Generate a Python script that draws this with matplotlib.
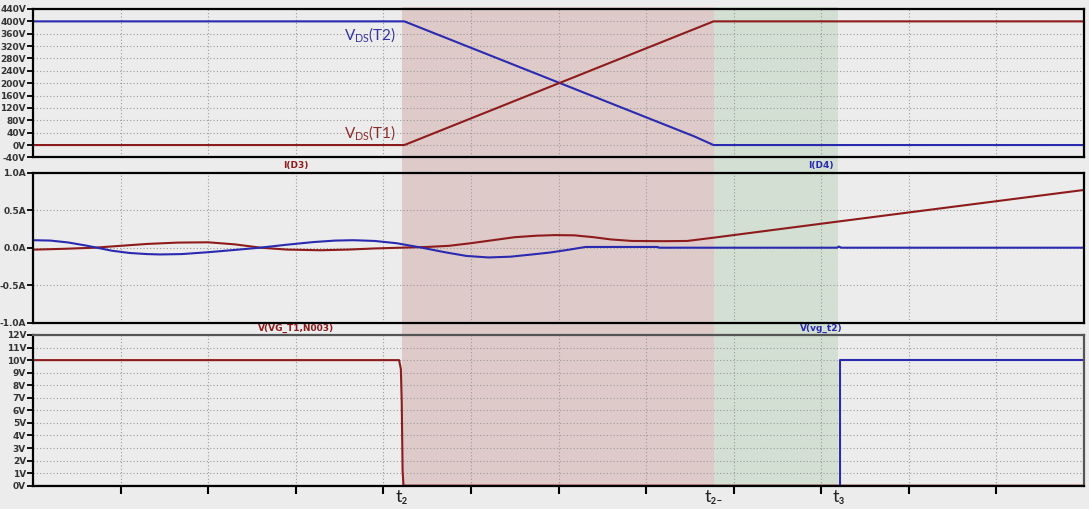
import matplotlib
matplotlib.use("Agg")
import matplotlib.pyplot as plt
from matplotlib.patches import Rectangle
from matplotlib.transforms import blended_transform_factory

# Time axis in grid divisions (12 divisions across the plot)
X_MAX = 12

# Top panel: drain-source voltages
vds_t = [0, 4.24, 7.55, 7.77, 12]
vds_t2 = [400, 400, 28, 0, 0]
vds_t1_t = [0, 4.24, 7.77, 12]
vds_t1 = [0, 0, 400, 400]

# Middle panel: diode currents
id4_t = [0, 0.2, 0.4, 0.6, 0.73, 0.9, 1.1, 1.3, 1.45, 1.7, 2.0, 2.3, 2.59, 2.9,
         3.2, 3.45, 3.66, 3.9, 4.15, 4.44, 4.7, 4.95, 5.2, 5.45, 5.7, 5.9, 6.1,
         6.31, 7.13, 7.15, 9.18, 9.2, 9.23, 12]
id4 = [0.1, 0.095, 0.07, 0.03, 0.0, -0.04, -0.07, -0.085, -0.09, -0.085, -0.06,
       -0.03, 0.0, 0.04, 0.075, 0.095, 0.1, 0.09, 0.06, 0.0, -0.06, -0.11, -0.13,
       -0.12, -0.09, -0.065, -0.03, 0.01, 0.01, 0.0, 0.0, 0.015, 0.0, 0.0]
id3_t = [0, 0.35, 0.7, 1.0, 1.3, 1.65, 2.0, 2.3, 2.6, 2.9, 3.28, 3.6, 3.9, 4.19,
         4.5, 4.75, 5.0, 5.25, 5.5, 5.75, 5.96, 6.18, 6.4, 6.6, 6.84, 7.2, 7.47,
         7.78, 9.2, 12]
id3 = [-0.026, -0.015, 0.0, 0.025, 0.05, 0.068, 0.072, 0.045, 0.0, -0.025,
       -0.034, -0.025, -0.01, 0.0, 0.01, 0.025, 0.06, 0.1, 0.14, 0.16, 0.168,
       0.165, 0.14, 0.11, 0.09, 0.087, 0.09, 0.135, 0.35, 0.77]

# Bottom panel: gate voltages
vg1_t = [0, 4.18, 4.2, 4.21, 4.22, 4.23, 12]
vg1 = [10, 10, 9.3, 6.7, 1.2, 0, 0]
vg2_t = [0, 9.21, 9.21, 12]
vg2 = [0, 0, 10, 10]

# Shaded intervals and their labels
red_span = (4.21, 7.77)
green_span = (7.77, 9.19)
t_marks = [4.21, 7.77, 9.2]
t_labels = ["t\u2082", "t\u2082\u208b", "t\u2083"]

top_ticks = list(range(-40, 441, 40))
mid_ticks = [-1.0, -0.5, 0.0, 0.5, 1.0]
bot_ticks = list(range(0, 13))

RED = "#8e1b1b"
BLUE = "#2a2ab0"
BG = "#ececec"

W, H = 1089, 509
fig = plt.figure(figsize=(W / 100, H / 100), dpi=100, facecolor=BG)


def px_axes(top, bottom, left=33, right=1084):
    return fig.add_axes([left / W, 1 - bottom / H, (right - left) / W, (bottom - top) / H])


ax1 = px_axes(9, 157.4)
ax2 = px_axes(172.7, 322.7)
ax3 = px_axes(335, 485.7)


def style(ax, ticks, fmt, spine_color="black"):
    ax.set_facecolor("none")
    ax.set_xlim(0, X_MAX)
    ax.set_ylim(ticks[0], ticks[-1])
    ax.set_yticks(ticks)
    ax.set_yticklabels([fmt(v) for v in ticks], fontsize=6.5, fontweight="bold", color="#333333")
    ax.set_xticks(range(1, X_MAX))
    ax.tick_params(axis="y", direction="out", length=4, width=1.3, pad=1)
    ax.tick_params(axis="x", labelbottom=False, length=0)
    ax.grid(True, color="#9a9a9a", linestyle=(0, (1, 2)), linewidth=0.8)
    for s in ax.spines.values():
        s.set_linewidth(1.6)
        s.set_color(spine_color)


style(ax1, top_ticks, lambda v: f"{v}V")
style(ax2, mid_ticks, lambda v: f"{v:.1f}A")
style(ax3, bot_ticks, lambda v: f"{v}V")
ax3.spines["top"].set_color("#555555")
ax3.spines["right"].set_color("#555555")
ax3.tick_params(axis="x", direction="out", length=6, width=1.5, color="black")

# top panel
ax1.plot(vds_t, vds_t2, color=BLUE, lw=1.5)
ax1.plot(vds_t1_t, vds_t1, color=RED, lw=1.5)
ax1.text(4.14, 356, r"V$\mathregular{_{DS}}$(T2)", color="#3434a0", fontsize=11,
         family="Lato", ha="right", va="center")
ax1.text(4.15, 39, r"V$\mathregular{_{DS}}$(T1)", color="#8b2c2c", fontsize=11,
         family="Lato", ha="right", va="center")

# middle panel
ax2.plot(id3_t, id3, color=RED, lw=1.5)
ax2.plot(id4_t, id4, color=BLUE, lw=1.5)
tr2 = ax2.get_xaxis_transform()
ax2.text(3.0, 1.05, "I(D3)", transform=tr2, color=RED, fontsize=6.5, fontweight="bold",
         ha="center", va="center")
ax2.text(9.0, 1.05, "I(D4)", transform=tr2, color=BLUE, fontsize=6.5, fontweight="bold",
         ha="center", va="center")

# bottom panel
ax3.plot(vg1_t, vg1, color=RED, lw=1.5)
ax3.plot(vg2_t, vg2, color=BLUE, lw=1.5)
tr3 = ax3.get_xaxis_transform()
ax3.text(3.0, 1.045, "V(VG_T1,N003)", transform=tr3, color=RED, fontsize=6.5,
         fontweight="bold", ha="center", va="center")
ax3.text(9.0, 1.045, "V(vg_t2)", transform=tr3, color=BLUE, fontsize=6.5,
         fontweight="bold", ha="center", va="center")

# shaded intervals spanning all panels (drawn behind the transparent axes)
span_tr = blended_transform_factory(ax3.transData, fig.transFigure)
y0 = 1 - 486 / H
y1 = 1 - 7 / H
fig.add_artist(Rectangle((red_span[0], y0), red_span[1] - red_span[0], y1 - y0,
                         transform=span_tr, facecolor="#dfcaca", edgecolor="none", zorder=-1))
fig.add_artist(Rectangle((green_span[0], y0), green_span[1] - green_span[0], y1 - y0,
                         transform=span_tr, facecolor="#d2dfd2", edgecolor="none", zorder=-1))

for x, lab in zip(t_marks, t_labels):
    fig.text(0, 1 - 497 / H, lab, transform=span_tr, fontsize=13, family="Lato",
             color="#222222", ha="center", va="center").set_x(x)

fig.savefig("out.png", dpi=100, facecolor=BG)
